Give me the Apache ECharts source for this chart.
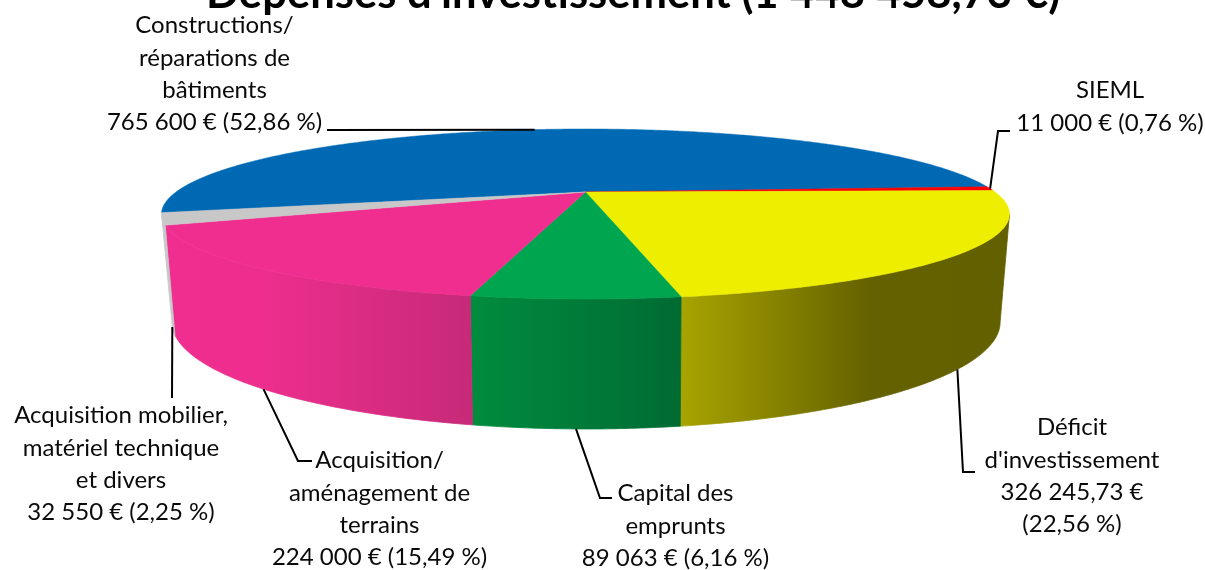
<!DOCTYPE html>
<html><head><meta charset="utf-8">
<style>html,body{margin:0;padding:0;background:#fff}#c{width:1205px;height:570px}</style>
<script src="https://cdn.jsdelivr.net/npm/echarts@6/dist/echarts.min.js"></script>
</head><body><div id="c"></div>
<script>
const titleText = "Dépenses d'investissement (1 448 458,73 €)";
const categories = ["Constructions/ réparations de bâtiments","SIEML","Déficit d'investissement","Capital des emprunts","Acquisition/ aménagement de terrains","Acquisition mobilier, matériel technique et divers"];
const values = [765600, 11000, 326245.73, 89063, 224000, 32550];
const labelTexts = [
  ["Constructions/","réparations de","bâtiments","765 600 € (52,86 %)"],
  ["SIEML","11 000 € (0,76 %)"],
  ["Déficit","d'investissement","326 245,73 €","(22,56 %)"],
  ["Capital des","emprunts","89 063 € (6,16 %)"],
  ["Acquisition/","aménagement de","terrains","224 000 € (15,49 %)"],
  ["Acquisition mobilier,","matériel technique","et divers","32 550 € (2,25 %)"]
];
const topColors = ["#0069B4","#FF0000","#EEEE00","#00A54F","#EF2E8F","#C8C8C8"];
const wallStops = [
  [[0,"#0069B4"],[1,"#0069B4"]],
  [[0,"#FF0000"],[1,"#FF0000"]],
  [[0,"#A8A400"],[0.58,"#646100"],[1,"#636000"]],
  [[0,"#008C3E"],[1,"#006B33"]],
  [[0,"#EF2E8F"],[0.3,"#EE2E8E"],[1,"#C62A78"]],
  [[0,"#C8C8C8"],[1,"#C8C8C8"]]
];
// label layout: centre x, first-line y; leader elbow points
const labelLayout = [
  {x:214.5,y:25.5,elbow:[[327,130]]},
  {x:1110,y:90.5,elbow:[[998,131],[1010,131]]},
  {x:1072,y:427.5,elbow:[[963,472],[975,472]]},
  {x:675.5,y:493.5,elbow:[[600,498],[612,498]]},
  {x:379.5,y:460.5,elbow:[[298,461],[312,461]]},
  {x:121,y:415.5,elbow:[[172,398]]}
];
const topPlane = {cx:585.5, cy:192, a:409.5, b:79.3, k:0.259};
const botPlane = {cx:586, cy:293.3, a:399, b:99.3, k:0.268};
const total = values.reduce((p,v)=>p+v,0);
const YELLOW_START = -1.1, WALL_FROM = 15.3, WALL_TO = 164.7;
// cumulative clockwise angles, anchored so that the third slice begins at YELLOW_START
const spans = values.map(v=>v/total*360);
const starts = [];
(function(){
  let a = YELLOW_START - (spans[0]+spans[1]);
  spans.forEach(s=>{starts.push(a); a+=s;});
})();
function proj(pl,deg){
  const t=deg*Math.PI/180, c=Math.cos(t), s=Math.sin(t), w=1-pl.k*s;
  return [pl.cx+pl.a*c/w, pl.cy+pl.b*s/w];
}
function arc(pl,d0,d1){
  const n=Math.max(2,Math.ceil(Math.abs(d1-d0)/0.5)), pts=[];
  for(let i=0;i<=n;i++) pts.push(proj(pl,d0+(d1-d0)*i/n));
  return pts;
}
function renderWall(params){
  const i=params.dataIndex, d0=Math.max(starts[i],WALL_FROM), d1=Math.min(starts[i]+spans[i],WALL_TO);
  if(d1<=d0) return {type:'group',children:[]};
  const pts=arc(topPlane,d0,d1).concat(arc(botPlane,d1,d0));
  const grad={type:'linear',x:0,y:0,x2:1,y2:0,colorStops:wallStops[i].map(s=>({offset:s[0],color:s[1]}))};
  return {type:'polygon',shape:{points:pts},style:{fill:grad,stroke:grad,lineWidth:0.8}};
}
function renderTop(params,api){
  const i=params.dataIndex, span=api.value(0)/total*360;
  const pts=[[topPlane.cx,topPlane.cy]].concat(arc(topPlane,starts[i],starts[i]+span));
  return {type:'polygon',shape:{points:pts},style:{fill:topColors[i],stroke:topColors[i],lineWidth:0.5}};
}
function renderLabel(params){
  const i=params.dataIndex, mid=starts[i]+spans[i]/2, norm=((mid%360)+360)%360;
  const onNear = norm>WALL_FROM && norm<WALL_TO;
  const origin = proj(onNear?botPlane:topPlane,mid);
  const L=labelLayout[i];
  const kids=[{type:'polyline',shape:{points:[origin].concat(L.elbow)},style:{stroke:'#000',lineWidth:2,fill:null}}];
  labelTexts[i].forEach((t,j)=>kids.push({type:'text',x:L.x,y:L.y+j*32.3,style:{text:t,
    font:'400 24px Lato',fill:'#0a0a0a',textAlign:'center',textVerticalAlign:'middle'}}));
  return {type:'group',children:kids};
}
const data = values.map((v,i)=>({name:categories[i],value:[v]}));
const chart=echarts.init(document.getElementById('c'),null,{renderer:'canvas'});
chart.setOption({
  animation:false,
  backgroundColor:'#fff',
  title:{text:titleText,left:201,top:-33,textStyle:{fontFamily:'Lato',fontWeight:'bold',fontSize:43.6,color:'#000'}},
  tooltip:{show:false},
  series:[
    {type:'custom',coordinateSystem:'none',data:data,renderItem:renderWall,z:1,silent:true},
    {type:'custom',coordinateSystem:'none',data:data,renderItem:renderTop,z:2,silent:true},
    {type:'custom',coordinateSystem:'none',data:data,renderItem:renderLabel,z:3,silent:true}
  ]
});
</script></body></html>
